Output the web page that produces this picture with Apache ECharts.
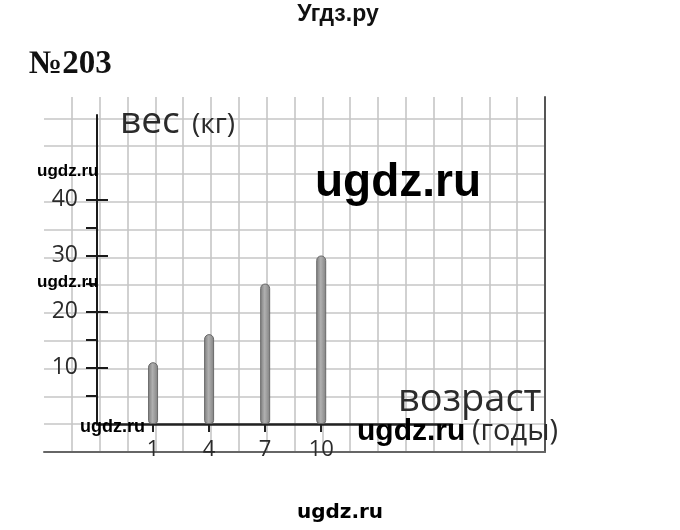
<!DOCTYPE html>
<html>
<head>
<meta charset="utf-8">
<script src="https://cdn.jsdelivr.net/npm/echarts@6/dist/echarts.min.js"></script>
<style>
html,body{margin:0;padding:0;background:#fff;}
#chart{width:680px;height:530px;}
</style>
</head>
<body>
<div id="chart"></div>
<script>
// ---- data ----
const ages = [1, 4, 7, 10];
const weights = [11, 16, 25, 30];
const yLabelValues = [10, 20, 30, 40];
const yTickValues = [5, 10, 15, 20, 25, 30, 35, 40];
const xLabelValues = [1, 4, 7, 10];
const yAxisTitle = 'вес';
const yAxisUnit = '(кг)';
const xAxisTitle = 'возраст';
const xAxisUnit = '(годы)';
const pageTitle = 'Угдз.ру';
const taskNumber = '№203';
const watermark = 'ugdz.ru';

const axisFont = "'Open Sans', 'DejaVu Sans', sans-serif";
const textColor = '#2b2b2b';

const chart = echarts.init(document.getElementById('chart'), null, {renderer: 'canvas'});

const option = {
  backgroundColor: '#ffffff',
  animation: false,
  grid: [
    // graph paper
    {left: 44, right: 135, top: 97, bottom: 78},
    // data grid
    {left: 97, right: 228, top: 115, bottom: 106}
  ],
  xAxis: [
    {
      gridIndex: 0, type: 'value', min: 0, max: 18, interval: 1,
      axisLine: {show: true, onZero: false, lineStyle: {color: '#666', width: 2}},
      axisTick: {show: false}, axisLabel: {show: false},
      splitLine: {show: true, showMinLine: false, showMaxLine: false, lineStyle: {color: '#c6c6c6', width: 1.6}}
    },
    {
      gridIndex: 1, type: 'value', min: -2, max: 17, interval: 1,
      axisLine: {show: true, onZero: false, lineStyle: {color: '#222', width: 2.5}},
      axisTick: {show: true, customValues: xLabelValues, length: 8, lineStyle: {color: '#222', width: 2}},
      axisLabel: {show: true, customValues: xLabelValues, margin: 15, fontFamily: axisFont, fontSize: 22, color: textColor},
      splitLine: {show: false}
    }
  ],
  yAxis: [
    {
      gridIndex: 0, type: 'value', min: 0, max: 12.77, interval: 1, position: 'right',
      axisLine: {show: true, onZero: false, lineStyle: {color: '#555', width: 2}},
      axisTick: {show: false}, axisLabel: {show: false},
      splitLine: {show: true, showMinLine: false, showMaxLine: false, lineStyle: {color: '#c6c6c6', width: 1.6}}
    },
    {
      gridIndex: 1, type: 'value', min: 0, max: 55, interval: 5, position: 'left',
      axisLine: {show: true, onZero: false, lineStyle: {color: '#1a1a1a', width: 2}},
      axisTick: {show: true, customValues: yTickValues, length: 11, lineStyle: {color: '#1a1a1a', width: 2}},
      axisLabel: {show: true, customValues: yLabelValues, margin: 19, fontFamily: axisFont, fontSize: 23, color: textColor, padding: [0, 0, 8, 0]},
      splitLine: {show: false}
    },
    {
      gridIndex: 1, type: 'value', min: 0, max: 55, interval: 5, position: 'left',
      axisLine: {show: false, onZero: false},
      axisTick: {show: true, inside: true, customValues: yLabelValues, length: 11, lineStyle: {color: '#1a1a1a', width: 2}},
      axisLabel: {show: false},
      splitLine: {show: false}
    }
  ],
  series: [
    {
      type: 'bar',
      xAxisIndex: 1, yAxisIndex: 1,
      data: ages.map((a, i) => [a, weights[i]]),
      barWidth: 10,
      itemStyle: {
        color: new echarts.graphic.LinearGradient(0, 0, 1, 0, [
          {offset: 0, color: '#7c7c7c'},
          {offset: 0.45, color: '#b0b0b0'},
          {offset: 1, color: '#808080'}
        ]),
        borderColor: '#6a6a6a', borderWidth: 1,
        borderRadius: [5, 5, 3, 3]
      },
      z: 3
    }
  ],
  graphic: [
    {type: 'text', x: 338, y: 15, z: 100, style: {text: pageTitle, font: "bold 23px 'Liberation Sans', Arial, sans-serif", fill: '#111', align: 'center', verticalAlign: 'middle'}},
    {type: 'text', x: 29, y: 64, z: 100, style: {text: taskNumber, font: "bold 33px 'Liberation Serif', 'Times New Roman', serif", fill: '#111', align: 'left', verticalAlign: 'middle'}},
    {type: 'text', x: 120, y: 122, z: 50, style: {text: yAxisTitle, font: "37px " + axisFont, fill: textColor, align: 'left', verticalAlign: 'middle'}},
    {type: 'text', x: 192, y: 125, z: 50, style: {text: yAxisUnit, font: "28px " + axisFont, fill: textColor, align: 'left', verticalAlign: 'middle'}},
    {type: 'text', x: 398, y: 400, z: 50, style: {text: xAxisTitle, font: "38px " + axisFont, fill: textColor, align: 'left', verticalAlign: 'middle'}},
    {type: 'text', x: 472, y: 432, z: 50, style: {text: xAxisUnit, font: "29px " + axisFont, fill: textColor, align: 'left', verticalAlign: 'middle'}},
    {type: 'text', x: 315, y: 183, z: 100, style: {text: watermark, font: "bold 46px 'Liberation Sans', Arial, sans-serif", fill: '#000', align: 'left', verticalAlign: 'middle'}},
    {type: 'text', x: 37, y: 171, z: 100, style: {text: watermark, font: "bold 17px 'Liberation Sans', Arial, sans-serif", fill: '#000', align: 'left', verticalAlign: 'middle'}},
    {type: 'text', x: 37, y: 282, z: 100, style: {text: watermark, font: "bold 17px 'Liberation Sans', Arial, sans-serif", fill: '#000', align: 'left', verticalAlign: 'middle'}},
    {type: 'text', x: 80, y: 427, z: 100, style: {text: watermark, font: "bold 18px 'Liberation Sans', Arial, sans-serif", fill: '#000', align: 'left', verticalAlign: 'middle'}},
    {type: 'text', x: 357, y: 432, z: 100, style: {text: watermark, font: "bold 30px 'Liberation Sans', Arial, sans-serif", fill: '#000', align: 'left', verticalAlign: 'middle'}},
    {type: 'text', x: 340, y: 513, z: 100, style: {text: watermark, font: "bold 20px 'DejaVu Sans', sans-serif", fill: '#000', align: 'center', verticalAlign: 'middle'}}
  ]
};
chart.setOption(option);
</script>
</body>
</html>
